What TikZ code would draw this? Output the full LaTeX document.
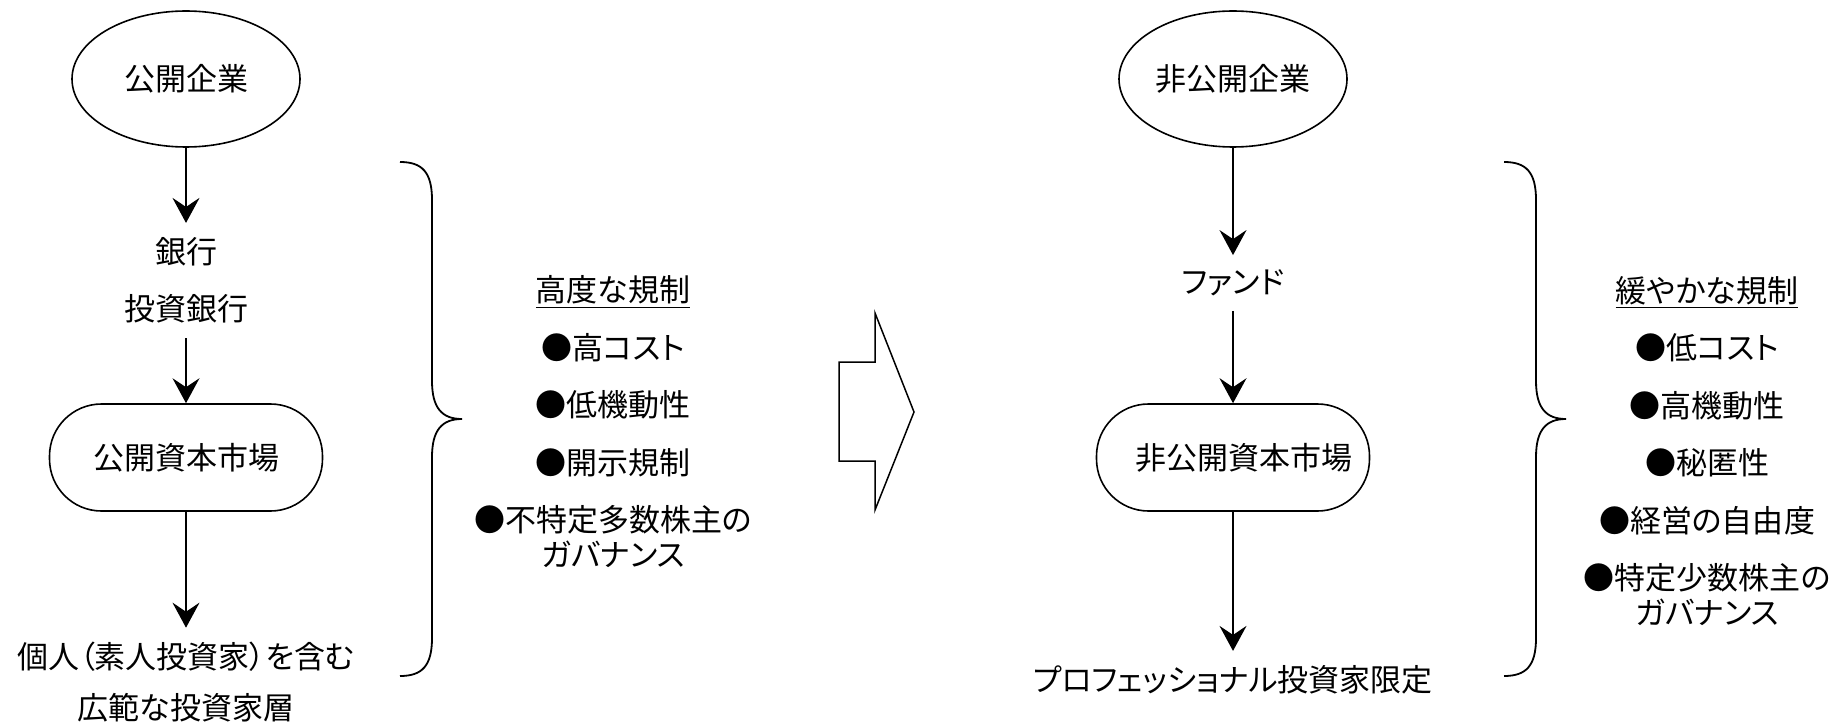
\documentclass[tikz,border=0pt]{standalone}
\usepackage{fontspec}
\setmainfont{Noto Sans CJK JP}[RawFeature={+palt}]
\usetikzlibrary{arrows.meta,positioning,shapes.geometric}

\tikzset{
  firm/.style = {draw, ellipse, line width=0.8pt, minimum width=114pt, minimum height=68pt, inner sep=0pt},
  market/.style = {draw, rounded corners=26pt, line width=0.8pt, minimum width=136.5pt, minimum height=53.5pt},
  lbl/.style = {align=center, inner xsep=2pt, inner ysep=7pt},
  rules/.style = {align=center, inner sep=0pt},
}

\begin{document}
\begin{tikzpicture}[x=0.5pt, y=-0.5pt, line width=0.75pt,
    font=\fontsize{15.5pt}{17.5pt}\selectfont,
    >={Stealth[length=12.5pt, width=13.5pt, inset=4.5pt]}]
  \useasboundingbox (0,0) rectangle (1845,727);

  \node[firm] (pub) at (186,79) {公開企業};
  \node[lbl, below of = pub, node distance = 100.75pt] (bank) {銀行\\[11pt]投資銀行};
  \node[market, below of = bank, node distance = 88.5pt] (pubmkt) {公開資本市場};
  \node[lbl, below of = pubmkt, node distance = 112.5pt] (retail) {個人（素人投資家）を含む\\[8pt]広範な投資家層};

  \draw[->] (pub) to (bank);
  \draw[->] (bank) to (pubmkt);
  \draw[->] (pubmkt) to (retail);

  \draw[line width=0.9pt] (400,162) .. controls (422,162) and (432,172) .. (432,200) -- (432,381)
    .. controls (432,408) and (442,419) .. (462,419) .. controls (442,419) and (432,430) .. (432,457)
    -- (432,638) .. controls (432,666) and (422,676) .. (400,676);
  \node[rules] (pubrules) at (613,422) {\underline{高度な規制}\\[11.25pt]●高コスト\\[11.25pt]●低機動性\\[11.25pt]●開示規制\\[11.25pt]●不特定多数株主の\\ガバナンス};

  \draw (839,362) -- (875,362) -- (875,313) -- (914,412) -- (875,510) -- (875,461) -- (839,461) -- cycle;

  \node[firm] (priv) at (1233,79) {非公開企業};
  \node[lbl, below of = priv, node distance = 102pt] (fund) {ファンド};
  \node[market, below of = fund, node distance = 87.25pt] (privmkt) {\hspace*{11pt}非公開資本市場};
  \node[lbl, below of = privmkt, node distance = 111.25pt] (pro) {プロフェッショナル投資家限定};

  \draw[->] (priv) to (fund);
  \draw[->] (fund) to (privmkt);
  \draw[->] (privmkt) to (pro);

  \draw[line width=0.9pt] (1504,162) .. controls (1526,162) and (1536,172) .. (1536,200) -- (1536,381)
    .. controls (1536,408) and (1546,419) .. (1566,419) .. controls (1546,419) and (1536,430) .. (1536,457)
    -- (1536,638) .. controls (1536,666) and (1526,676) .. (1504,676);
  \node[rules] (privrules) at (1707,451) {\underline{緩やかな規制}\\[11.25pt]●低コスト\\[11.25pt]●高機動性\\[11.25pt]●秘匿性\\[11.25pt]●経営の自由度\\[11.25pt]●特定少数株主の\\ガバナンス};
\end{tikzpicture}
\end{document}
